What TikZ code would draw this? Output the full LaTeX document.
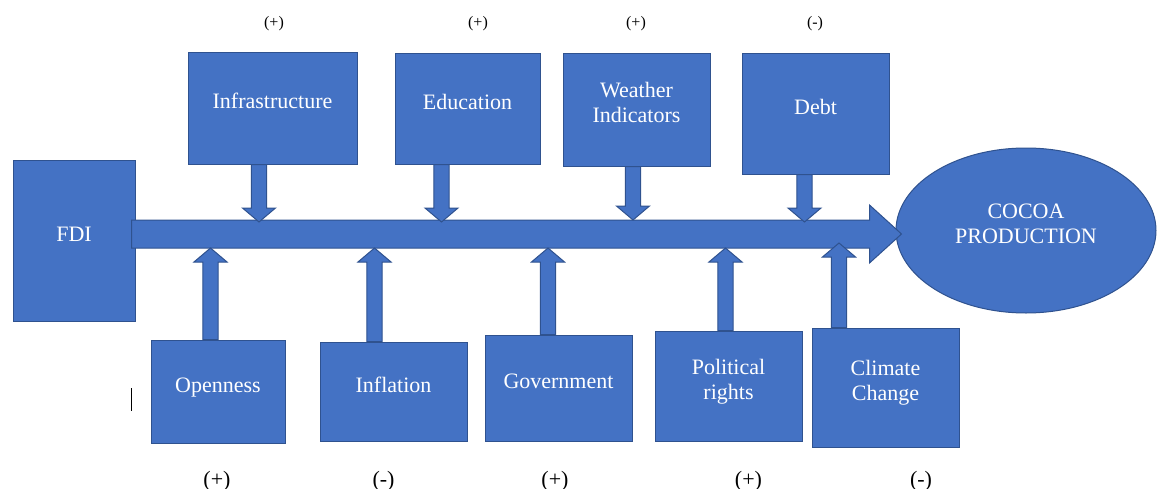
\documentclass[tikz,border=0pt]{standalone}
\usepackage{fontspec}
\setmainfont{Liberation Serif}
\usepackage{tikz}
\usetikzlibrary{shapes.geometric, calc}
\definecolor{FactorBlue}{RGB}{68, 114, 196}
\definecolor{FactorEdge}{RGB}{47, 82, 143}

\tikzset{
  factor/.style 2 args={draw=FactorEdge, line width=0.75pt, fill=FactorBlue, text=white,
    inner sep=0pt, minimum width=#1*0.75pt, minimum height=#2*0.75pt, align=center,
    font=\fontsize{16.5}{18.75}\selectfont, text height=12pt, text depth=11pt},
  twoline/.style={text height=30.75pt},
  sign/.style={font=\fontsize{12}{14}\selectfont},
  bigsign/.style={font=\fontsize{16.5}{18.75}\selectfont},
  % fat block arrow: half shaft / half head / head length
  blockarrow/.style args={#1/#2/#3}{draw=FactorEdge, line width=0.75pt, fill=FactorBlue,
    to path={let \p1=($(\tikztotarget)!#3!(\tikztostart)$) in
      ($(\tikztostart)!#1!90:(\tikztotarget)$) -- ($(\p1)!#1!90:(\tikztotarget)$)
      -- ($(\p1)!#2!90:(\tikztotarget)$) -- (\tikztotarget)
      -- ($(\p1)!#2!-90:(\tikztotarget)$) -- ($(\p1)!#1!-90:(\tikztotarget)$)
      -- ($(\tikztostart)!#1!-90:(\tikztotarget)$) -- cycle}},
  mainarrow/.style={blockarrow=10.5pt/21.75pt/24pt},
  feeder/.style={blockarrow=5.7pt/12.4pt/10.5pt}
}

\begin{document}
\begin{tikzpicture}[x=0.75pt, y=-0.75pt]
  \useasboundingbox (0,0) rectangle (1158,489);

  % boxes
  \node[factor={122}{161}] (fdi) at (74,240.5) {FDI};
  \node[factor={169}{112}] (infra) at (272.5,108) {Infrastructure};
  \node[factor={145}{111}] (educ) at (467.5,108.5) {Education};
  \node[factor={147}{113}, twoline] (weather) at (636.5,109.5) {Weather\\Indicators};
  \node[factor={147}{121}] (debt) at (815.5,113.5) {Debt};
  \node[factor={134}{103}] (open) at (218,391.5) {Openness};
  \node[factor={147}{99}] (infl) at (393.5,391.5) {Inflation};
  \node[factor={147}{106}] (gov) at (558.5,388) {Government};
  \node[factor={147}{110}, twoline] (polit) at (728.5,386) {Political\\rights};
  \node[factor={147}{119}, twoline] (climate) at (885.5,387.5) {Climate\\Change};
  \node[factor={260}{165}, twoline, ellipse] (cocoa) at (1026,230.5) {COCOA\\PRODUCTION};

  % main arrow FDI -> cocoa
  \coordinate (axis) at ($(fdi.east)+(-4,-6.5)$);
  \coordinate (uppertip) at ($(axis)+(0,-12)$);
  \coordinate (lowertip) at ($(axis)+(0,14)$);
  \draw[mainarrow] (axis) to ($(axis -| cocoa.west)+(6,0)$);

  % feeders from above
  \draw[feeder] ($(infra.south)+(-13.5,0)$) to ($(infra.south |- uppertip)+(-13.5,0)$);
  \draw[feeder] ($(educ.south)+(-26,0)$) to ($(educ.south |- uppertip)+(-26,0)$);
  \draw[feeder] ($(weather.south)+(-3.5,0)$) to ($(weather.south |- uppertip)+(-3.5,-2)$);
  \draw[feeder] ($(debt.south)+(-11,0)$) to ($(debt.south |- uppertip)+(-11,0)$);

  % feeders from below
  \draw[feeder] ($(open.north)+(-7.5,0)$) to ($(open.north |- lowertip)+(-7.5,0)$);
  \draw[feeder] ($(infl.north)+(-19,0)$) to ($(infl.north |- lowertip)+(-19,0)$);
  \draw[feeder] ($(gov.north)+(-10.5,0)$) to ($(gov.north |- lowertip)+(-10.5,0)$);
  \draw[feeder] ($(polit.north)+(-3,0)$) to ($(polit.north |- lowertip)+(-3,0)$);
  \draw[feeder] ($(climate.north)+(-46.5,0)$) to ($(climate.north |- lowertip)+(-46.5,-5)$);

  % signs
  \node[sign] (sinfra) at (274,24) {(+)};
  \node[sign] (seduc) at (478,24) {(+)};
  \node[sign] (sweather) at (636,24) {(+)};
  \node[sign] (sdebt) at (815,24) {(-)};
  \node[bigsign] (sopen) at (217,481) {(+)};
  \node[bigsign] (sinfl) at (383.5,481) {(-)};
  \node[bigsign] (sgov) at (555,481) {(+)};
  \node[bigsign] (spolit) at (748.5,481) {(+)};
  \node[bigsign] (sclimate) at (921,481) {(-)};

  \draw[line width=1pt] (131.5,388) -- (131.5,411);
\end{tikzpicture}
\end{document}
